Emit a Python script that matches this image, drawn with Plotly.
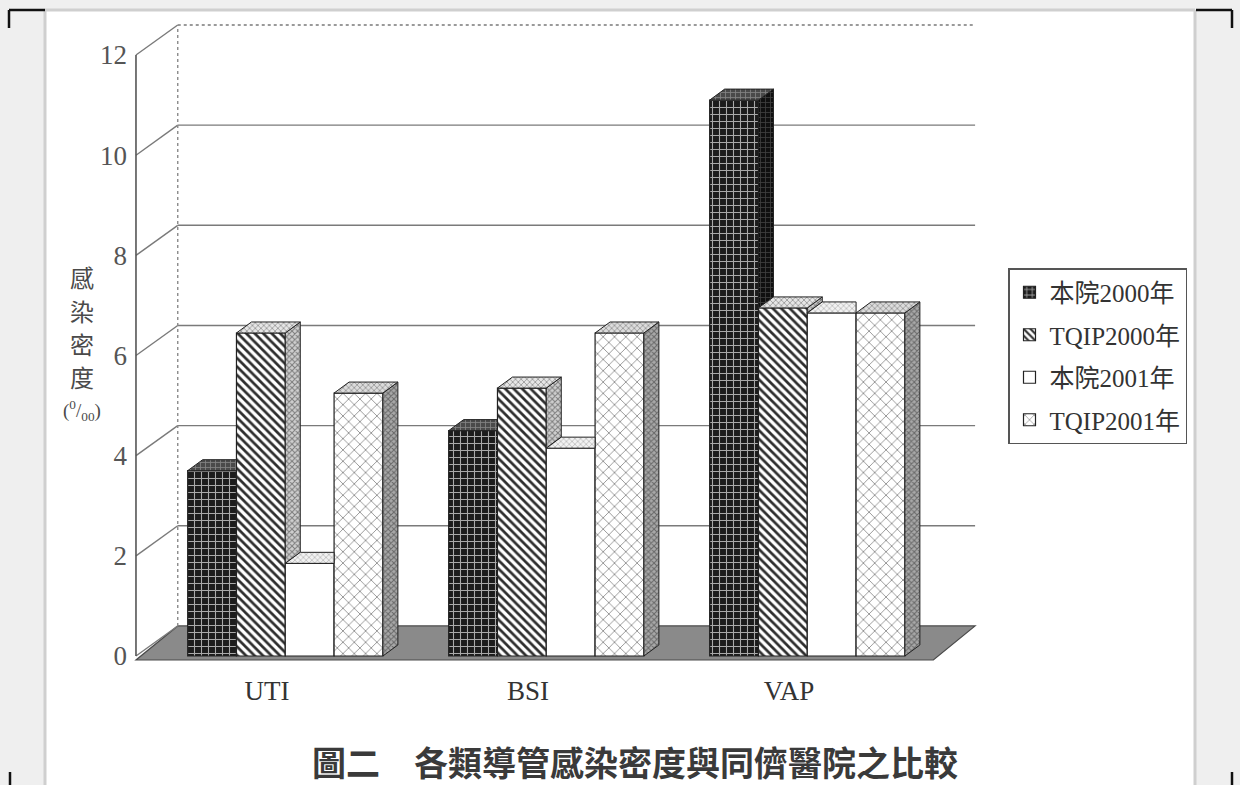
import plotly.graph_objects as go

# ---- data -------------------------------------------------------------
categories = ["UTI", "BSI", "VAP"]
series_names = ["本院2000年", "TQIP2000年", "本院2001年", "TQIP2001年"]
hosp_2000 = [3.7, 4.5, 11.1]
tqip_2000 = [6.45, 5.35, 6.95]
hosp_2001 = [1.85, 4.15, 6.85]
tqip_2001 = [5.25, 6.45, 6.85]
y_ticks = [0, 2, 4, 6, 8, 10, 12]
y_tick_labels = ["0", "2", "4", "6", "8", "10", "12"]

series_values = [hosp_2000, tqip_2000, hosp_2001, tqip_2001]

# ---- canvas / axis geometry (pixels) ----------------------------------
W, H = 1240, 785
M_L, M_R, M_T, M_B = 128, 260, 20, 123
X0PIX, XSCALE = 267, 261.0      # pixel of first category, pixels per category
Y0PIX, YSCALE = 656, 50.08      # pixel of value 0, pixels per unit
x_range = [(M_L - X0PIX) / XSCALE, (W - M_R - X0PIX) / XSCALE]
y_range = [(Y0PIX - (H - M_B)) / YSCALE, (Y0PIX - M_T) / YSCALE]
PLOT_W = W - M_L - M_R
PLOT_H = H - M_T - M_B


def px(p):
    return (p - M_L) / PLOT_W


def py(p):
    return ((H - M_B) - p) / PLOT_H


# pseudo-3D box geometry (data units)
X_LEFT, X_RIGHT = -0.502, 2.553
WALL_DX, WALL_DY = 0.16, 0.6
FLOOR_FRONT = -0.08
BAR_W, GROUP_START = 0.187, -0.304
BAR_DX, BAR_DY = 0.0575, 0.22

SERIF = "Liberation Serif, Noto Sans CJK TC, serif"
CJK = "Noto Sans CJK TC, sans-serif"
EDGE = "#222222"
GRID = "#7a7a7a"

# front-face, top-face and side-face fills for each series
front_styles = [
    dict(shape="+", bgcolor="#1c1c1c", fgcolor="#a9a9a9", size=7, solidity=0.28),
    dict(shape="\\", bgcolor="#ffffff", fgcolor="#2e2e2e", size=6, solidity=0.45),
    dict(shape="", bgcolor="#ffffff", fgcolor="#ffffff", size=6, solidity=0.1),
    dict(shape="x", bgcolor="#ffffff", fgcolor="#8a8a8a", size=8, solidity=0.2),
]
front_colors = ["#1c1c1c", "#ffffff", "#ffffff", "#ffffff"]
top_styles = [
    dict(shape="+", bgcolor="#4a4a4a", fgcolor="#bdbdbd", size=5, solidity=0.3),
    dict(shape="x", bgcolor="#e6e6e6", fgcolor="#3a3a3a", size=4, solidity=0.35),
    dict(shape="x", bgcolor="#f2f2f2", fgcolor="#6a6a6a", size=4, solidity=0.3),
    dict(shape="x", bgcolor="#dcdcdc", fgcolor="#444444", size=4, solidity=0.35),
]
side_styles = [
    dict(shape="+", bgcolor="#101010", fgcolor="#707070", size=5, solidity=0.3),
    dict(shape="x", bgcolor="#cfcfcf", fgcolor="#2a2a2a", size=4, solidity=0.45),
    dict(shape="x", bgcolor="#eeeeee", fgcolor="#777777", size=4, solidity=0.3),
    dict(shape="x", bgcolor="#a8a8a8", fgcolor="#2a2a2a", size=4, solidity=0.45),
]

fig = go.Figure()

# ---- front faces: real bar traces ---------------------------------------
for k, (name, vals) in enumerate(zip(series_names, series_values)):
    fig.add_trace(go.Bar(
        x=list(range(len(categories))),
        y=vals,
        name=name,
        offset=GROUP_START + k * BAR_W,
        width=BAR_W,
        marker=dict(color=front_colors[k],
                    line=dict(color=EDGE, width=1.2),
                    pattern=dict(**front_styles[k], fillmode="replace")),
        legendgroup=name,
        hoverinfo="skip",
    ))


def face(xs, ys, style):
    fig.add_trace(go.Scatter(
        x=xs + [xs[0]], y=ys + [ys[0]], mode="lines", fill="toself",
        fillcolor=style["bgcolor"], fillpattern=style,
        line=dict(color=EDGE, width=1), showlegend=False, hoverinfo="skip",
    ))


# ---- side faces and top faces, clipped where the next bar hides them ---
n = len(series_values)
for i in range(len(categories)):
    boxes = []
    for k in range(n):
        x0 = i + GROUP_START + k * BAR_W
        x1 = x0 + BAR_W
        v = series_values[k][i]
        vn = series_values[k + 1][i] if k + 1 < n else None
        boxes.append((k, x0, x1, v, vn))
    # side faces
    for k, x0, x1, v, vn in boxes:
        if vn is None or vn < v:
            base = 0 if vn is None else vn
            face([x1, x1 + BAR_DX, x1 + BAR_DX, x1],
                 [base, base + BAR_DY, v + BAR_DY, v], side_styles[k])
    # top faces, back to front so taller neighbours sit on top
    for k, x0, x1, v, vn in reversed(boxes):
        if vn is None or vn < v:
            xs = [x0, x1, x1 + BAR_DX, x0 + BAR_DX]
        else:
            xs = [x0, x1, x1, x0 + BAR_DX]
        ys = [v, v, v + BAR_DY, v + BAR_DY]
        face(xs, ys, top_styles[k])

# ---- walls, floor and gridlines -----------------------------------------
shapes = []
floor_path = (f"M {X_LEFT},{FLOOR_FRONT} L {X_RIGHT},{FLOOR_FRONT} "
              f"L {X_RIGHT + WALL_DX},{WALL_DY} L {X_LEFT + WALL_DX},{WALL_DY} Z")
shapes.append(dict(type="path", path=floor_path, xref="x", yref="y",
                   fillcolor="#8a8a8a", line=dict(color="#4a4a4a", width=1.2),
                   layer="below"))
for v in y_ticks:
    # side wall diagonal
    shapes.append(dict(type="line", xref="x", yref="y", layer="below",
                       x0=X_LEFT, y0=v, x1=X_LEFT + WALL_DX, y1=v + WALL_DY,
                       line=dict(color=GRID, width=1.4)))
    if v > 0:
        shapes.append(dict(type="line", xref="x", yref="y", layer="below",
                           x0=X_LEFT + WALL_DX, y0=v + WALL_DY,
                           x1=X_RIGHT + WALL_DX, y1=v + WALL_DY,
                           line=dict(color=GRID, width=1.4,
                                     dash="dot" if v == y_ticks[-1] else "solid")))
# front value axis and back-wall edge
shapes.append(dict(type="line", xref="x", yref="y", layer="below",
                   x0=X_LEFT, y0=0, x1=X_LEFT, y1=y_ticks[-1],
                   line=dict(color="#555555", width=1.6)))
shapes.append(dict(type="line", xref="x", yref="y", layer="below",
                   x0=X_LEFT + WALL_DX, y0=WALL_DY, x1=X_LEFT + WALL_DX,
                   y1=y_ticks[-1] + WALL_DY,
                   line=dict(color="#8a8a8a", width=1.4, dash="dot")))

# ---- page frame ---------------------------------------------------------
for (a, b, c, d) in [(0, 0, 45, 785), (1195, 0, 1240, 785), (45, 0, 1195, 10)]:
    shapes.append(dict(type="rect", xref="paper", yref="paper", layer="below",
                       x0=px(a), x1=px(c), y0=py(d), y1=py(b),
                       fillcolor="#efefef", line=dict(width=0)))
for (a, b, c, d) in [(45, 10, 45, 785), (1195, 10, 1195, 785), (45, 10, 1195, 10)]:
    shapes.append(dict(type="line", xref="paper", yref="paper",
                       x0=px(a), y0=py(b), x1=px(c), y1=py(d),
                       line=dict(color="#cfcfcf", width=3)))
for (a, b, c, d) in [(9, 10, 45, 10), (9, 10, 9, 28), (1196, 10, 1232, 10),
                     (1232, 10, 1232, 28), (10, 772, 10, 785), (1232, 772, 1232, 785)]:
    shapes.append(dict(type="line", xref="paper", yref="paper",
                       x0=px(a), y0=py(b), x1=px(c), y1=py(d),
                       line=dict(color="#111111", width=2.5)))

# ---- text ---------------------------------------------------------------
def label(text, xp, yp, family, size, color):
    return dict(text=text, x=px(xp), y=py(yp), xref="paper", yref="paper",
                xanchor="center", yanchor="middle", showarrow=False,
                font=dict(family=family, size=size, color=color))


annotations = []
for ch, yp in [("感", 276), ("染", 310), ("密", 343), ("度", 376)]:
    annotations.append(label(ch, 82, yp, CJK, 24, "#4a4a4a"))
annotations.append(label("(<sup>0</sup>/<sub>00</sub>)", 82, 410, SERIF, 19, "#4a4a4a"))
annotations.append(label("<b>圖二　各類導管感染密度與同儕醫院之比較</b>",
                         635, 761, CJK, 34, "#3a3a3a"))

fig.update_layout(
    width=W, height=H,
    margin=dict(l=M_L, r=M_R, t=M_T, b=M_B, pad=0),
    paper_bgcolor="white", plot_bgcolor="white",
    barmode="overlay",
    shapes=shapes, annotations=annotations,
    xaxis=dict(range=x_range, tickvals=list(range(len(categories))), ticktext=categories,
               showgrid=False, zeroline=False, showline=False, ticks="",
               ticklabelstandoff=10,
               tickfont=dict(family=SERIF, size=27, color="#333333")),
    yaxis=dict(range=y_range, tickvals=y_ticks, ticktext=y_tick_labels,
               showgrid=False, zeroline=False, showline=False, ticks="",
               ticklabelstandoff=0,
               tickfont=dict(family=SERIF, size=27, color="#555555")),
    legend=dict(x=px(1008), y=py(268), xanchor="left", yanchor="top",
                bgcolor="white", bordercolor="#555555", borderwidth=1.5,
                font=dict(family=SERIF, size=25, color="#333333"),
                traceorder="grouped", tracegroupgap=7),
    showlegend=True,
)

fig.write_html("out.html")
